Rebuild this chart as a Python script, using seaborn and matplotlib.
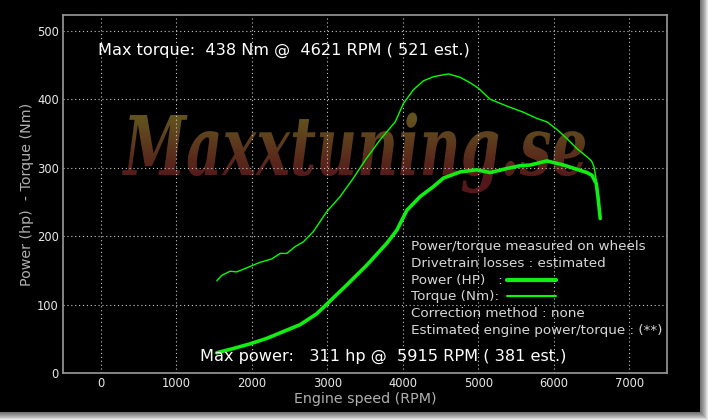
import numpy as np
import matplotlib
matplotlib.use("Agg")
import matplotlib.pyplot as plt
import seaborn as sns
import pandas as pd
from matplotlib.patches import Rectangle, PathPatch
from matplotlib.textpath import TextPath
from matplotlib.font_manager import FontProperties
from matplotlib.transforms import Affine2D

# dyno data
rpm_torque = [1537, 1603, 1713, 1802, 1978, 2111, 2266, 2376, 2464, 2575, 2685, 2817,
              2994, 3171, 3347, 3502, 3701, 3900, 4010, 4142, 4275, 4407, 4606, 4761,
              4893, 5004, 5158, 5380, 5600, 5777, 5910, 6042, 6180, 6307, 6440, 6500,
              6535, 6563, 6590, 6610]
torque = [135, 143, 149, 148, 156, 162, 167, 175, 175, 185, 192, 207,
          236, 258, 285, 311, 341, 367, 394, 414, 427, 433, 437, 432,
          424, 416, 400, 390, 381, 372, 367, 356, 342, 328, 316, 310,
          301, 282, 258, 236]

rpm_power = [1537, 1750, 1978, 2200, 2420, 2641, 2862, 2994, 3259, 3525, 3790, 3922,
             4055, 4231, 4400, 4540, 4761, 4982, 5158, 5380, 5556, 5688, 5910, 6130,
             6300, 6440, 6506, 6563, 6585, 6616]
power = [30, 36, 43, 51, 61, 71, 87, 101, 129, 158, 190, 209,
         238, 258, 272, 285, 294, 297, 293, 299, 303, 304, 310, 304,
         298, 293, 289, 277, 258, 226]

x_ticks = [0, 1000, 2000, 3000, 4000, 5000, 6000, 7000]
y_ticks = [0, 100, 200, 300, 400, 500]

legend_lines = ["Power/torque measured on wheels",
                "Drivetrain losses : estimated",
                "Power (HP)   :",
                "Torque (Nm):",
                "Correction method : none",
                "Estimated engine power/torque : (**)"]

sns.set_theme(style="dark")
plt.rcParams['font.family'] = ['DejaVu Sans']

df_t = pd.DataFrame({'rpm': rpm_torque, 'val': torque})
df_p = pd.DataFrame({'rpm': rpm_power, 'val': power})

fig = plt.figure(figsize=(7.08, 4.2), dpi=100)
fig.patch.set_facecolor('white')

# background layer: shadow, black panel, watermark (pixel coordinates)
bg = fig.add_axes([0, 0, 1, 1], zorder=0)
bg.set_xlim(0, 708)
bg.set_ylim(420, 0)
bg.axis('off')
for d in range(8, 0, -1):
    bg.add_patch(Rectangle((0, 0), 700 + d, 412 + d, facecolor='black',
                           edgecolor='none', alpha=0.09))
bg.add_patch(Rectangle((0, 0), 700, 412, facecolor='black', edgecolor='none'))

fp = FontProperties(family='DejaVu Serif', style='italic', weight='bold')
tp = TextPath((0, 0), "Maxxtuning.se", size=100, prop=fp)
ext = tp.get_extents()
sx = 463 / ext.width
sy = 60 / 72.9
tr = Affine2D().translate(-ext.x0, 0).scale(sx, -sy).translate(122, 175) + bg.transData
wm = PathPatch(tp, transform=tr, facecolor='none', edgecolor='none')
bg.add_patch(wm)
top_c = np.array([0x62, 0x52, 0x1f]) / 255
bot_c = np.array([0x55, 0x18, 0x1a]) / 255
t = np.clip((np.linspace(100, 215, 60) - 118) / 60, 0, 1)[:, None, None]
grad = top_c * (1 - t) + bot_c * t
im = bg.imshow(grad, extent=[100, 620, 215, 100], origin='upper', aspect='auto', zorder=2)
im.set_clip_path(wm)
bg.set_xlim(0, 708)
bg.set_ylim(420, 0)

# main chart
ax = fig.add_axes([63 / 708, 1 - 373.3 / 420, 604 / 708, 358.3 / 420], zorder=1)
ax.set_facecolor('none')
sns.lineplot(data=df_t, x='rpm', y='val', ax=ax, color='#00ff00', linewidth=1.0)
sns.lineplot(data=df_p, x='rpm', y='val', ax=ax, color='#11ee11', linewidth=2.6)

ax.set_xlim(-500, 7500)
ax.set_ylim(0, 523)
ax.set_xticks(x_ticks)
ax.set_yticks(y_ticks)
ax.tick_params(colors='#e8e8e8', labelsize=8.3, length=0, pad=3)
ax.grid(True, color='#c8c8c8', linestyle=(0, (1, 2.5)), linewidth=0.8)
for s in ax.spines.values():
    s.set_color('#9a9a9a')
    s.set_linewidth(1.2)
ax.set_xlabel('Engine speed (RPM)', color='#b0b0b0', fontsize=10.3, labelpad=1)
ax.set_ylabel('Power (hp)  - Torque (Nm)', color='#b0b0b0', fontsize=10.3, labelpad=2)

ax.text(0.058, 0.889, 'Max torque:  438 Nm @  4621 RPM ( 521 est.)', transform=ax.transAxes,
        color='white', fontsize=11.6, va='baseline', ha='left')
ax.text(0.227, 0.035, 'Max power:   311 hp @  5915 RPM ( 381 est.)', transform=ax.transAxes,
        color='white', fontsize=11.6, va='baseline', ha='left')

for i, line in enumerate(legend_lines):
    ax.text(0.5757, 0.3444 - i * 0.0469, line, transform=ax.transAxes,
            color='#d8d8d8', fontsize=9.7, va='baseline', ha='left')
ax.plot([0.7346, 0.8157], [0.2615, 0.2615], transform=ax.transAxes, color='#11ee11', linewidth=3.0)
ax.plot([0.7346, 0.8157], [0.2151, 0.2151], transform=ax.transAxes, color='#00ff00', linewidth=1.5)

fig.savefig('out.png', dpi=100, facecolor=fig.get_facecolor())
